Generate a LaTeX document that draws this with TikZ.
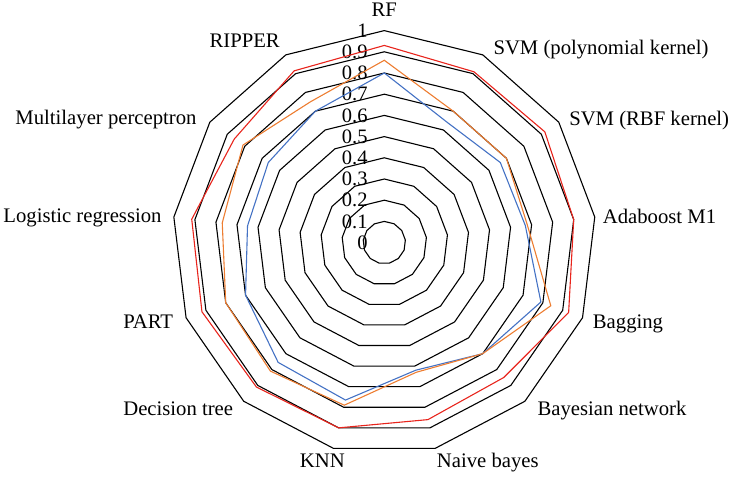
\documentclass[tikz,border=0pt]{standalone}
\usepackage{fontspec}
\setmainfont{Liberation Serif}
\definecolor{serred}{RGB}{232,36,28}
\definecolor{serorange}{RGB}{237,125,49}
\definecolor{serblue}{RGB}{68,114,196}
\begin{document}
\begin{tikzpicture}[x=1pt,y=-1pt,
  ring/.style={black,line width=1.1pt,line join=miter},
  series/.style={line width=1.1pt,line join=miter},
  axislabel/.style={inner sep=0pt,font=\fontsize{20.7}{25}\selectfont},
  ticklabel/.style={inner sep=0pt,anchor=east,font=\fontsize{20.5}{24}\selectfont}]
\useasboundingbox (0,0) rectangle (731,481);
\begin{scope}[shift={(384.3,242.6)}]
  % concentric 13-gons for 0.1 ... 1.0
  \foreach \i in {1,...,10}{
    \pgfmathsetmacro{\r}{21.2*\i}
    \draw[ring] (-90:\r) \foreach \k in {1,...,12}{ -- (\k*360/13-90:\r) } -- cycle;
  }
  % tick labels along the top axis
  \foreach \i/\t in {0/0,1/0.1,2/0.2,3/0.3,4/0.4,5/0.5,6/0.6,7/0.7,8/0.8,9/0.9,10/1}{
    \node[ticklabel] (tick\i) at (-16.5,-21.2*\i) {\t};
  }
  % red series
  \draw[series,serred] (-90:0.93*212)
    \foreach \v [count=\k] in {0.91,0.92,0.90,0.93,0.85,0.86,0.90,0.91,0.92,0.915,0.86,0.915}
    { -- (\k*360/13-90:\v*212) } -- cycle;
  % blue series
  \draw[series,serblue] (-90:0.80*212)
    \foreach \v [count=\k] in {0.64,0.665,0.67,0.79,0.70,0.62,0.765,0.755,0.70,0.65,0.665,0.70}
    { -- (\k*360/13-90:\v*212) } -- cycle;
  % orange series
  \draw[series,serorange] (-90:0.86*212)
    \foreach \v [count=\k] in {0.70,0.70,0.68,0.84,0.70,0.63,0.79,0.81,0.80,0.77,0.81,0.75}
    { -- (\k*360/13-90:\v*212) } -- cycle;
\end{scope}
% category labels
\node[axislabel,anchor=base] (lrf) at (384.2,16.7) {RF};
\node[axislabel,anchor=base west] (lpoly) at (493.3,55) {SVM (polynomial kernel)};
\node[axislabel,anchor=base east] (lrbf) at (729.3,125.7) {SVM (RBF kernel)};
\node[axislabel,anchor=base west] (lada) at (602.7,223.3) {Adaboost M1};
\node[axislabel,anchor=base west] (lbag) at (592.7,328.3) {Bagging};
\node[axislabel,anchor=base west] (lbay) at (537.3,415) {Bayesian network};
\node[axislabel,anchor=base west] (lnb) at (436.7,467.3) {Naive bayes};
\node[axislabel,anchor=base east] (lknn) at (345,467.3) {KNN};
\node[axislabel,anchor=base east] (ldt) at (233.3,415) {Decision tree};
\node[axislabel,anchor=base east] (lpart) at (173.3,328.3) {PART};
\node[axislabel,anchor=base east] (llog) at (161.7,222.7) {Logistic regression};
\node[axislabel,anchor=base east] (lmlp) at (196.7,125) {Multilayer perceptron};
\node[axislabel,anchor=base east] (lrip) at (280,47.3) {RIPPER};
\end{tikzpicture}
\end{document}
